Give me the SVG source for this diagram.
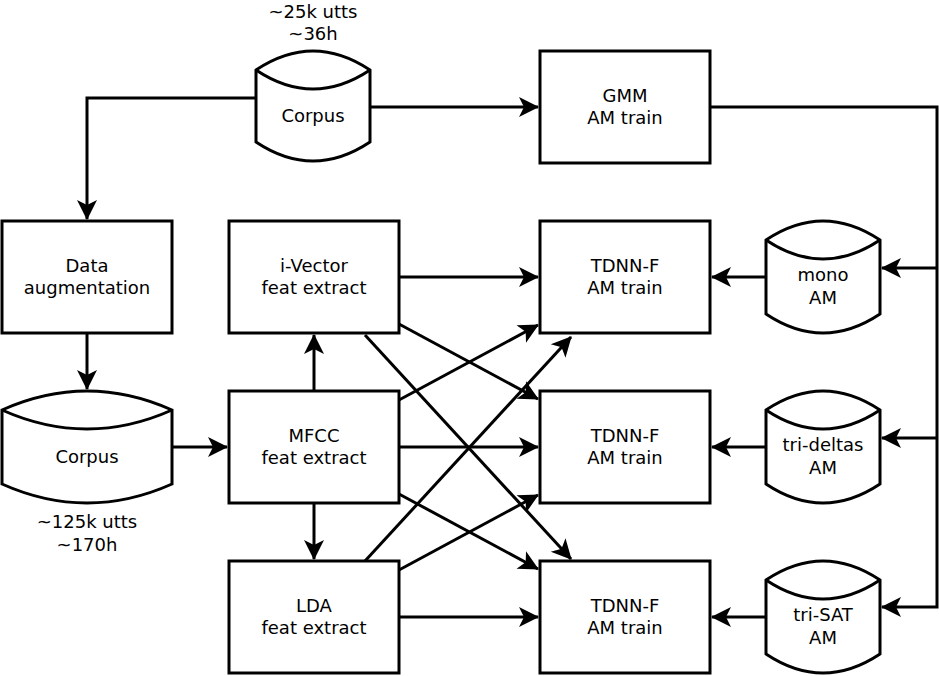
<svg xmlns="http://www.w3.org/2000/svg" width="939" height="676" viewBox="0 0 939 676">
<style>
.b{fill:#fff;stroke:#000;stroke-width:3}
.c{fill:none;stroke:#000;stroke-width:3}
text{font-family:"DejaVu Sans",sans-serif;font-size:18px;fill:#000;text-anchor:middle}
</style>
<defs>
<marker id="a" markerUnits="userSpaceOnUse" markerWidth="24" markerHeight="24" viewBox="-20 -12 24 24" refX="0" refY="0" orient="auto">
<path d="M1,0 L-19,-10 L-14,0 L-19,10 Z" fill="#000"/>
</marker>
</defs>
<rect width="939" height="676" fill="#fff"/>
<g id="connectors" class="c" marker-end="url(#a)">
<path d="M256,98 H87 V219"/>
<path d="M370,107 H538"/>
<path d="M710,107 H937 V607 H882"/>
<path d="M937,268 H882"/>
<path d="M937,438 H882"/>
<path d="M766,277 H712"/>
<path d="M766,447 H712"/>
<path d="M766,617 H712"/>
<path d="M87,333 V389"/>
<path d="M172,447 H227"/>
<path d="M314,391 V335"/>
<path d="M314,503 V559"/>
<path d="M399,277 H538"/>
<path d="M399,447 H538"/>
<path d="M399,617 H538"/>
<path d="M399,324 L538,399"/>
<path d="M399,400 L538,325"/>
<path d="M399,494 L538,569"/>
<path d="M399,570 L538,495"/>
<path d="M365,335 L571,559"/>
<path d="M365,561 L571,337"/>
</g>
<g id="corpus-top">
<path class="b" d="M256,70 Q313,32 370,70 L370,142 Q313,180 256,142 Z"/>
<path class="c" d="M256,70 Q313,108 370,70"/>
<text x="313" y="122">Corpus</text>
<text x="313" y="18">~25k utts</text>
<text x="313" y="40">~36h</text>
</g>
<g id="gmm">
<rect class="b" x="540" y="51" width="170" height="112"/>
<text x="625" y="102">GMM</text>
<text x="625" y="124">AM train</text>
</g>
<g id="data-aug">
<rect class="b" x="2" y="221" width="170" height="112"/>
<text x="87" y="272">Data</text>
<text x="87" y="294">augmentation</text>
</g>
<g id="corpus-bottom">
<path class="b" d="M2,410 Q87,372 172,410 L172,484 Q87,522 2,484 Z"/>
<path class="c" d="M2,410 Q87,448 172,410"/>
<text x="87" y="463">Corpus</text>
<text x="87" y="528">~125k utts</text>
<text x="87" y="551">~170h</text>
</g>
<g id="ivector">
<rect class="b" x="229" y="221" width="170" height="112"/>
<text x="314" y="272">i-Vector</text>
<text x="314" y="294">feat extract</text>
</g>
<g id="mfcc">
<rect class="b" x="229" y="391" width="170" height="112"/>
<text x="314" y="442">MFCC</text>
<text x="314" y="464">feat extract</text>
</g>
<g id="lda">
<rect class="b" x="229" y="561" width="170" height="112"/>
<text x="314" y="612">LDA</text>
<text x="314" y="634">feat extract</text>
</g>
<g id="tdnn1">
<rect class="b" x="540" y="221" width="170" height="112"/>
<text x="625" y="272">TDNN-F</text>
<text x="625" y="294">AM train</text>
</g>
<g id="tdnn2">
<rect class="b" x="540" y="391" width="170" height="112"/>
<text x="625" y="442">TDNN-F</text>
<text x="625" y="464">AM train</text>
</g>
<g id="tdnn3">
<rect class="b" x="540" y="561" width="170" height="112"/>
<text x="625" y="612">TDNN-F</text>
<text x="625" y="634">AM train</text>
</g>
<g id="mono-am">
<path class="b" d="M766,240 Q823,202 880,240 L880,314 Q823,352 766,314 Z"/>
<path class="c" d="M766,240 Q823,278 880,240"/>
<text x="823" y="281">mono</text>
<text x="823" y="304">AM</text>
</g>
<g id="trideltas-am">
<path class="b" d="M766,410 Q823,372 880,410 L880,484 Q823,522 766,484 Z"/>
<path class="c" d="M766,410 Q823,448 880,410"/>
<text x="823" y="451">tri-deltas</text>
<text x="823" y="474">AM</text>
</g>
<g id="trisat-am">
<path class="b" d="M766,580 Q823,542 880,580 L880,654 Q823,692 766,654 Z"/>
<path class="c" d="M766,580 Q823,618 880,580"/>
<text x="823" y="621">tri-SAT</text>
<text x="823" y="644">AM</text>
</g>
</svg>
